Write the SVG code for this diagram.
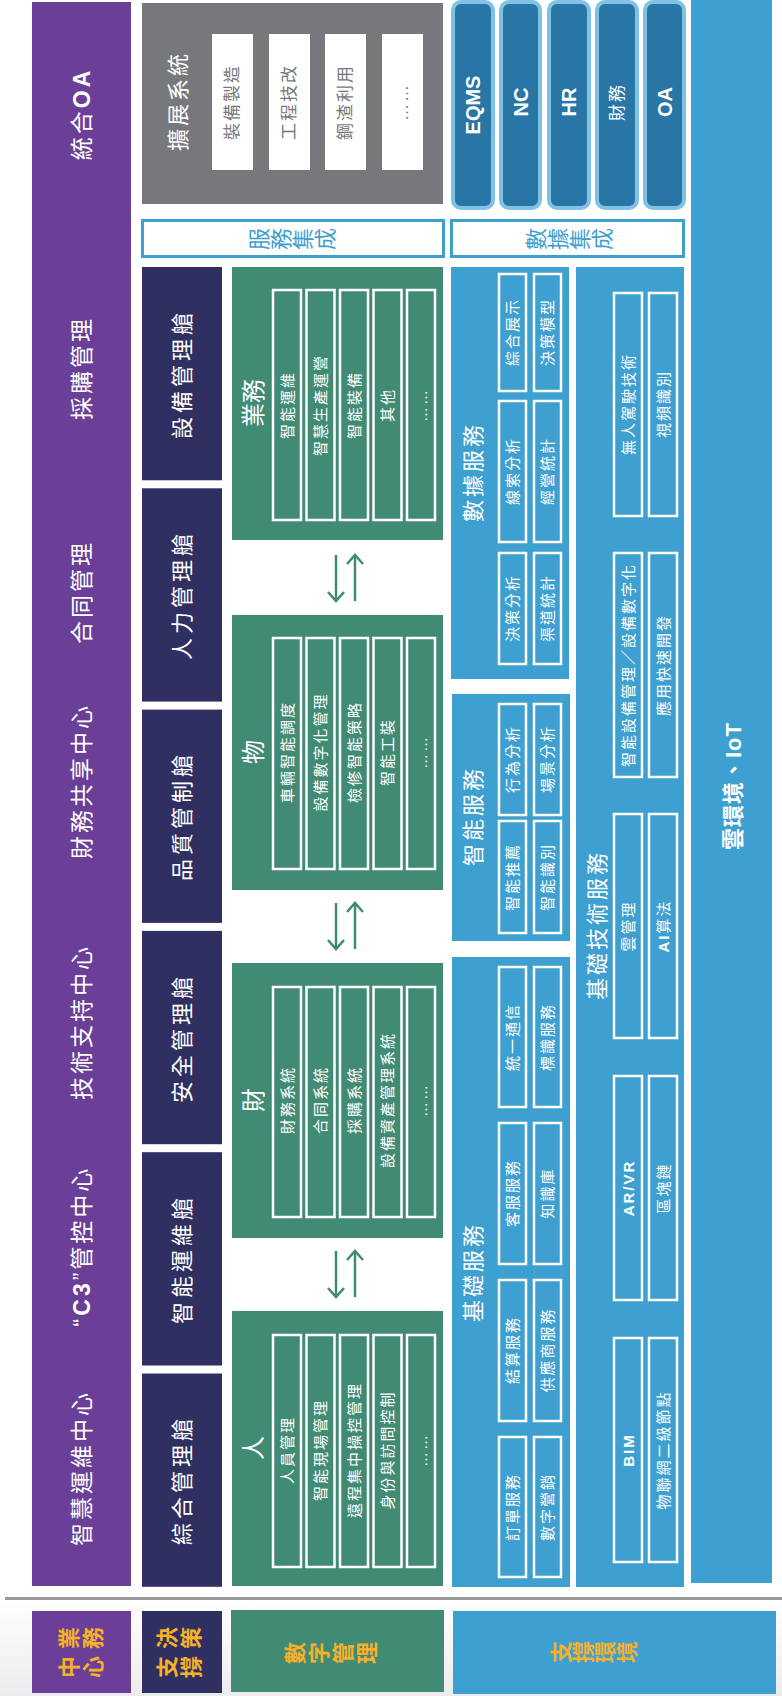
<svg xmlns="http://www.w3.org/2000/svg" width="782" height="1696" viewBox="0 0 782 1696">
<defs>
<linearGradient id="bg" x1="0" y1="0" x2="0" y2="1">
<stop offset="0" stop-color="#ffffff"/>
<stop offset="1" stop-color="#ececee"/>
</linearGradient>
<marker id="ah" viewBox="0 0 12 18" refX="10" refY="9" markerWidth="12" markerHeight="18" orient="auto" markerUnits="userSpaceOnUse">
<path d="M1,1 L10,9 L1,17" fill="none" stroke="#418A74" stroke-width="2.5"/>
</marker>
<style>
text{font-family:"Liberation Sans","Noto Sans CJK TC",sans-serif;text-anchor:middle;dominant-baseline:central;fill:#fff}
.big{font-size:23px;letter-spacing:3px}
.nav{font-size:22px;letter-spacing:4px}
.cat{font-size:24px}
.in{font-size:15px;letter-spacing:2px}
.gt{font-size:17px;letter-spacing:2px;fill:#77787B}
.tt{font-size:22px;letter-spacing:3px}
.b{font-weight:700}
.lg{font-size:22px;font-weight:700;fill:#F5B12A}
.bl{font-size:22px;fill:#3EA0D1}
.ib{fill:none;stroke:#fff;stroke-width:2.5}
.sys{fill:#2776A6;stroke:#7FC2E3;stroke-width:4}
.arr{stroke:#418A74;stroke-width:2.5;fill:none}
</style>
</defs>
<rect x="0" y="1600" width="782" height="96" fill="url(#bg)"/>

<g id="business-center">
<rect x="32" y="2" width="99" height="1584" fill="#6B3F97"/>
<text class="big" transform="translate(82,114) rotate(-90)">統合<tspan font-weight="700">OA</tspan></text>
<text class="big" transform="translate(82,368) rotate(-90)">採購管理</text>
<text class="big" transform="translate(82,592) rotate(-90)">合同管理</text>
<text class="big" transform="translate(82,781) rotate(-90)">財務共享中心</text>
<text class="big" transform="translate(82,1022) rotate(-90)">技術支持中心</text>
<text class="big" transform="translate(82,1246) rotate(-90)">“<tspan font-weight="700">C3</tspan>”管控中心</text>
<text class="big" transform="translate(82,1468) rotate(-90)">智慧運維中心</text>
</g>

<g id="ext-system">
<rect x="142" y="3" width="301" height="201" fill="#77787B"/>
<text class="tt" transform="translate(178,101) rotate(-90)">擴展系統</text>
<rect x="212" y="34" width="41" height="136" fill="#fff"/>
<rect x="269" y="34" width="41" height="136" fill="#fff"/>
<rect x="325" y="34" width="41" height="136" fill="#fff"/>
<rect x="382" y="34" width="41" height="136" fill="#fff"/>
<text class="gt" transform="translate(232.5,102) rotate(-90)">裝備製造</text>
<text class="gt" transform="translate(289.5,102) rotate(-90)">工程技改</text>
<text class="gt" transform="translate(345.5,102) rotate(-90)">鋼渣利用</text>
<text class="gt" transform="translate(402.5,102) rotate(-90)">……</text>
</g>

<g id="service-integration">
<rect x="142.5" y="220.5" width="301" height="36" fill="#fff" stroke="#3EA0D1" stroke-width="3"/>
<text class="bl" transform="translate(259,239) rotate(-90)">服</text>
<text class="bl" transform="translate(281,239) rotate(-90)">務</text>
<text class="bl" transform="translate(303,239) rotate(-90)">集</text>
<text class="bl" transform="translate(325,239) rotate(-90)">成</text>
</g>

<g id="data-integration">
<rect x="451.5" y="220.5" width="232" height="36" fill="#fff" stroke="#3EA0D1" stroke-width="3"/>
<text class="bl" transform="translate(536,239) rotate(-90)">數</text>
<text class="bl" transform="translate(558,239) rotate(-90)">據</text>
<text class="bl" transform="translate(580,239) rotate(-90)">集</text>
<text class="bl" transform="translate(602,239) rotate(-90)">成</text>
</g>

<g id="systems">
<rect class="sys" x="453" y="2" width="40" height="206" rx="8"/>
<rect class="sys" x="501" y="2" width="39" height="206" rx="8"/>
<rect class="sys" x="549" y="2" width="40" height="206" rx="8"/>
<rect class="sys" x="597" y="2" width="40" height="206" rx="8"/>
<rect class="sys" x="645" y="2" width="39" height="206" rx="8"/>
<text class="b" font-size="20" transform="translate(473,105) rotate(-90)">EQMS</text>
<text class="b" font-size="20" transform="translate(520.5,102) rotate(-90)">NC</text>
<text class="b" font-size="20" transform="translate(569,102) rotate(-90)">HR</text>
<text font-size="17" letter-spacing="2" transform="translate(617,102) rotate(-90)">財務</text>
<text class="b" font-size="20" transform="translate(664.5,102) rotate(-90)">OA</text>
</g>

<g id="cloud">
<rect x="691" y="0" width="81" height="1583" fill="#3EA0D1"/>
<text class="b" font-size="22" letter-spacing="1" transform="translate(733,786) rotate(-90)">雲環境、IoT</text>
</g>

<g id="decision-support">
<rect x="142" y="267" width="80" height="213.3" fill="#2F2F61"/>
<rect x="142" y="488.3" width="80" height="213.3" fill="#2F2F61"/>
<rect x="142" y="709.6" width="80" height="213.3" fill="#2F2F61"/>
<rect x="142" y="930.9" width="80" height="213.3" fill="#2F2F61"/>
<rect x="142" y="1152.2" width="80" height="213.3" fill="#2F2F61"/>
<rect x="142" y="1373.5" width="80" height="213.3" fill="#2F2F61"/>
<text class="nav" transform="translate(182,374) rotate(-90)">設備管理艙</text>
<text class="nav" transform="translate(182,595) rotate(-90)">人力管理艙</text>
<text class="nav" transform="translate(182,816) rotate(-90)">品質管制艙</text>
<text class="nav" transform="translate(182,1038) rotate(-90)">安全管理艙</text>
<text class="nav" transform="translate(182,1259) rotate(-90)">智能運維艙</text>
<text class="nav" transform="translate(182,1480) rotate(-90)">綜合管理艙</text>
</g>

<g id="digital-business">
<rect x="232" y="267" width="211" height="273" fill="#418A74"/>
<text class="cat" transform="translate(253,403) rotate(-90)">業務</text>
<rect class="ib" x="273" y="290" width="28" height="230"/>
<rect class="ib" x="306.5" y="290" width="28" height="230"/>
<rect class="ib" x="340" y="290" width="28" height="230"/>
<rect class="ib" x="373.5" y="290" width="28" height="230"/>
<rect class="ib" x="407" y="290" width="28" height="230"/>
<text class="in" transform="translate(287,405) rotate(-90)">智能運維</text>
<text class="in" transform="translate(320.5,405) rotate(-90)">智慧生產運營</text>
<text class="in" transform="translate(354,405) rotate(-90)">智能裝備</text>
<text class="in" transform="translate(387.5,405) rotate(-90)">其他</text>
<text class="in" transform="translate(421,405) rotate(-90)">……</text>
</g>

<g id="digital-things">
<rect x="232" y="615" width="211" height="275" fill="#418A74"/>
<text class="cat" transform="translate(253,752) rotate(-90)">物</text>
<rect class="ib" x="273" y="638" width="28" height="231"/>
<rect class="ib" x="306.5" y="638" width="28" height="231"/>
<rect class="ib" x="340" y="638" width="28" height="231"/>
<rect class="ib" x="373.5" y="638" width="28" height="231"/>
<rect class="ib" x="407" y="638" width="28" height="231"/>
<text class="in" transform="translate(287,752) rotate(-90)">車輛智能調度</text>
<text class="in" transform="translate(320.5,752) rotate(-90)">設備數字化管理</text>
<text class="in" transform="translate(354,752) rotate(-90)">檢修智能策略</text>
<text class="in" transform="translate(387.5,752) rotate(-90)">智能工裝</text>
<text class="in" transform="translate(421,752) rotate(-90)">……</text>
</g>

<g id="digital-finance">
<rect x="232" y="963" width="211" height="275" fill="#418A74"/>
<text class="cat" transform="translate(253,1100) rotate(-90)">財</text>
<rect class="ib" x="273" y="987" width="28" height="230"/>
<rect class="ib" x="306.5" y="987" width="28" height="230"/>
<rect class="ib" x="340" y="987" width="28" height="230"/>
<rect class="ib" x="373.5" y="987" width="28" height="230"/>
<rect class="ib" x="407" y="987" width="28" height="230"/>
<text class="in" transform="translate(287,1100) rotate(-90)">財務系統</text>
<text class="in" transform="translate(320.5,1100) rotate(-90)">合同系統</text>
<text class="in" transform="translate(354,1100) rotate(-90)">採購系統</text>
<text class="in" transform="translate(387.5,1100) rotate(-90)">設備資產管理系統</text>
<text class="in" transform="translate(421,1100) rotate(-90)">……</text>
</g>

<g id="digital-people">
<rect x="232" y="1311" width="211" height="275" fill="#418A74"/>
<text class="cat" transform="translate(253,1448) rotate(-90)">人</text>
<rect class="ib" x="273" y="1335" width="28" height="232"/>
<rect class="ib" x="306.5" y="1335" width="28" height="232"/>
<rect class="ib" x="340" y="1335" width="28" height="232"/>
<rect class="ib" x="373.5" y="1335" width="28" height="232"/>
<rect class="ib" x="407" y="1335" width="28" height="232"/>
<text class="in" transform="translate(287,1450) rotate(-90)">人員管理</text>
<text class="in" transform="translate(320.5,1450) rotate(-90)">智能現場管理</text>
<text class="in" transform="translate(354,1450) rotate(-90)">遠程集中操控管理</text>
<text class="in" transform="translate(387.5,1450) rotate(-90)">身份與訪問控制</text>
<text class="in" transform="translate(421,1450) rotate(-90)">……</text>
</g>

<g id="connectors">
<line class="arr" x1="336" y1="555" x2="336" y2="601" marker-end="url(#ah)"/>
<line class="arr" x1="355" y1="601" x2="355" y2="555" marker-end="url(#ah)"/>
<line class="arr" x1="336" y1="903" x2="336" y2="949" marker-end="url(#ah)"/>
<line class="arr" x1="355" y1="949" x2="355" y2="903" marker-end="url(#ah)"/>
<line class="arr" x1="336" y1="1251" x2="336" y2="1297" marker-end="url(#ah)"/>
<line class="arr" x1="355" y1="1297" x2="355" y2="1251" marker-end="url(#ah)"/>
</g>

<g id="data-service">
<rect x="451" y="267" width="118" height="412" fill="#3EA0D1"/>
<text class="tt" transform="translate(473,472) rotate(-90)">數據服務</text>
<rect class="ib" x="499" y="274" width="27" height="117"/>
<rect class="ib" x="534" y="274" width="27" height="117"/>
<rect class="ib" x="499" y="401" width="27" height="141"/>
<rect class="ib" x="534" y="401" width="27" height="141"/>
<rect class="ib" x="499" y="553" width="27" height="111"/>
<rect class="ib" x="534" y="553" width="27" height="111"/>
<text class="in" transform="translate(512.5,332) rotate(-90)">綜合展示</text>
<text class="in" transform="translate(547.5,332) rotate(-90)">決策模型</text>
<text class="in" transform="translate(512.5,471) rotate(-90)">線索分析</text>
<text class="in" transform="translate(547.5,471) rotate(-90)">經營統計</text>
<text class="in" transform="translate(512.5,608) rotate(-90)">決策分析</text>
<text class="in" transform="translate(547.5,608) rotate(-90)">渠道統計</text>
</g>

<g id="smart-service">
<rect x="452" y="694" width="118" height="247" fill="#3EA0D1"/>
<text class="tt" transform="translate(473,816) rotate(-90)">智能服務</text>
<rect class="ib" x="499" y="704" width="27" height="111"/>
<rect class="ib" x="534" y="704" width="27" height="111"/>
<rect class="ib" x="499" y="821" width="27" height="112"/>
<rect class="ib" x="534" y="821" width="27" height="112"/>
<text class="in" transform="translate(512.5,759) rotate(-90)">行為分析</text>
<text class="in" transform="translate(547.5,759) rotate(-90)">場景分析</text>
<text class="in" transform="translate(512.5,877) rotate(-90)">智能推薦</text>
<text class="in" transform="translate(547.5,877) rotate(-90)">智能識別</text>
</g>

<g id="basic-service">
<rect x="452" y="957" width="118" height="630" fill="#3EA0D1"/>
<text class="tt" transform="translate(473,1272) rotate(-90)">基礎服務</text>
<rect class="ib" x="499" y="967" width="27" height="140"/>
<rect class="ib" x="534" y="967" width="27" height="140"/>
<rect class="ib" x="499" y="1123" width="27" height="141"/>
<rect class="ib" x="534" y="1123" width="27" height="141"/>
<rect class="ib" x="499" y="1280" width="27" height="141"/>
<rect class="ib" x="534" y="1280" width="27" height="141"/>
<rect class="ib" x="499" y="1437" width="27" height="140"/>
<rect class="ib" x="534" y="1437" width="27" height="140"/>
<text class="in" transform="translate(512.5,1037) rotate(-90)">統一通信</text>
<text class="in" transform="translate(547.5,1037) rotate(-90)">標識服務</text>
<text class="in" transform="translate(512.5,1193) rotate(-90)">客服服務</text>
<text class="in" transform="translate(547.5,1193) rotate(-90)">知識庫</text>
<text class="in" transform="translate(512.5,1350) rotate(-90)">結算服務</text>
<text class="in" transform="translate(547.5,1350) rotate(-90)">供應商服務</text>
<text class="in" transform="translate(512.5,1507) rotate(-90)">訂單服務</text>
<text class="in" transform="translate(547.5,1507) rotate(-90)">數字營銷</text>
</g>

<g id="basic-tech-service">
<rect x="576" y="267" width="108" height="1320" fill="#3EA0D1"/>
<text class="tt" transform="translate(597,925) rotate(-90)">基礎技術服務</text>
<rect class="ib" x="614" y="293" width="28" height="223"/>
<rect class="ib" x="649" y="293" width="28" height="223"/>
<rect class="ib" x="614" y="553" width="28" height="224"/>
<rect class="ib" x="649" y="553" width="28" height="224"/>
<rect class="ib" x="614" y="814" width="28" height="224"/>
<rect class="ib" x="649" y="814" width="28" height="224"/>
<rect class="ib" x="614" y="1076" width="28" height="224"/>
<rect class="ib" x="649" y="1076" width="28" height="224"/>
<rect class="ib" x="614" y="1338" width="28" height="224"/>
<rect class="ib" x="649" y="1338" width="28" height="224"/>
<text class="in" transform="translate(628,404) rotate(-90)">無人駕駛技術</text>
<text class="in" transform="translate(663,404) rotate(-90)">視頻識別</text>
<text class="in" letter-spacing="1" transform="translate(628,665) rotate(-90)">智能設備管理／設備數字化</text>
<text class="in" transform="translate(663,665) rotate(-90)">應用快速開發</text>
<text class="in" transform="translate(628,926) rotate(-90)">雲管理</text>
<text class="in" transform="translate(663,926) rotate(-90)"><tspan font-weight="700">AI</tspan>算法</text>
<text class="in b" letter-spacing="0" transform="translate(628,1188) rotate(-90)">AR/VR</text>
<text class="in" transform="translate(663,1188) rotate(-90)">區塊鏈</text>
<text class="in b" letter-spacing="0" transform="translate(628,1450) rotate(-90)">BIM</text>
<text class="in" transform="translate(663,1450) rotate(-90)">物聯網二級節點</text>
</g>

<g id="separator">
<rect x="5" y="1597" width="777" height="3" fill="#9a9a9c"/>
</g>

<g id="legend">
<rect x="32" y="1611" width="99" height="82" fill="#6B3F97"/>
<rect x="142" y="1611" width="80" height="82" fill="#2F2F61"/>
<rect x="231" y="1610" width="213" height="82" fill="#418A74"/>
<rect x="453" y="1611" width="323" height="83" fill="#3EA0D1"/>
<text class="lg" transform="translate(69,1638) rotate(-90)">業</text>
<text class="lg" transform="translate(93,1638) rotate(-90)">務</text>
<text class="lg" transform="translate(69,1667) rotate(-90)">中</text>
<text class="lg" transform="translate(93,1667) rotate(-90)">心</text>
<text class="lg" transform="translate(167,1638) rotate(-90)">決</text>
<text class="lg" transform="translate(191,1638) rotate(-90)">策</text>
<text class="lg" transform="translate(167,1667) rotate(-90)">支</text>
<text class="lg" transform="translate(191,1667) rotate(-90)">撐</text>
<text class="lg" transform="translate(295,1653) rotate(-90)">數</text>
<text class="lg" transform="translate(319,1653) rotate(-90)">字</text>
<text class="lg" transform="translate(343,1653) rotate(-90)">管</text>
<text class="lg" transform="translate(367,1653) rotate(-90)">理</text>
<text class="lg" transform="translate(561,1652) rotate(-90)">支</text>
<text class="lg" transform="translate(583,1652) rotate(-90)">撐</text>
<text class="lg" transform="translate(605,1652) rotate(-90)">環</text>
<text class="lg" transform="translate(627,1652) rotate(-90)">境</text>
</g>
</svg>
